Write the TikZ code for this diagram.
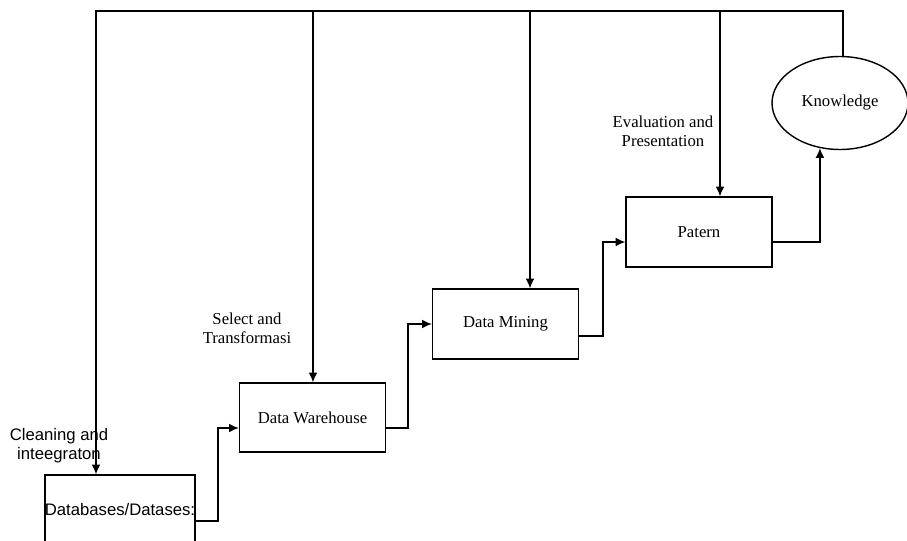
\documentclass[tikz,border=0pt]{standalone}
\usepackage{fontspec}
\setmainfont{Liberation Serif}
\newfontfamily\arialfont{Liberation Sans}
\usetikzlibrary{arrows.meta,calc,shapes.geometric}

\begin{document}
\begin{tikzpicture}[x=0.02cm,y=-0.02cm,line width=0.8pt,>={Latex[length=5.5pt,width=5pt]},
  box/.style={draw,rectangle,minimum width=2.92cm,inner sep=0pt,font=\fontsize{9.5}{11}\selectfont},
  lbl/.style={inner sep=0pt,align=center,font=\fontsize{9.5}{11}\selectfont}]
\clip (0,0) rectangle (907,541);
% ---------- boxes, going up step by step ----------
\node[box,minimum height=1.4cm,font=\arialfont\fontsize{9.5}{11}\selectfont] (db) at (120,510) {Databases/Datases:};
\node[box,minimum height=1.38cm] (dw) at (312.5,417.5) {Data Warehouse};
\node[box,minimum height=1.4cm] (dm) at (505.5,324) {Data Mining};
\node[box,minimum height=1.4cm] (pat) at (699,232) {Patern};
\node[draw,ellipse,minimum width=2.72cm,minimum height=1.86cm,inner sep=0pt,
  font=\fontsize{9.5}{11}\selectfont] (know) at (840,103) {Knowledge};
% ---------- step labels ----------
\node[lbl,font=\arialfont\fontsize{9.5}{11}\selectfont] (lblclean) at (59,446) {Cleaning and\\inteegraton};
\node[lbl] (lblsel) at (247,328) {Select and\\Transformasi};
\node[lbl] (lbleval) at (663,131) {Evaluation and\\Presentation};
% ---------- forward steps ----------
\draw[->] ($(db.east)+(0,11)$) -- ++(22,0) |- ($(dw.west)+(0,10.5)$);
\draw[->] ($(dw.east)+(0,10.5)$) -- ++(22,0) |- (dm.west);
\draw[->] ($(dm.east)+(0,12)$) -- ++(24,0) |- ($(pat.west)+(0,10)$);
\draw[->] ($(pat.east)+(0,10)$) -| (know.246);
% ---------- feedback line along the top ----------
\coordinate (topl) at (96,11);
\draw[->] ($(know.north)+(3,0)$) |- (topl) -- (topl |- db.north);
\foreach \xx/\nn in {313/dw,530/dm,720/pat}{
  \coordinate (top\nn) at (\xx,11);
  \draw[->] (top\nn) -- (top\nn |- \nn.north);}
\end{tikzpicture}
\end{document}
